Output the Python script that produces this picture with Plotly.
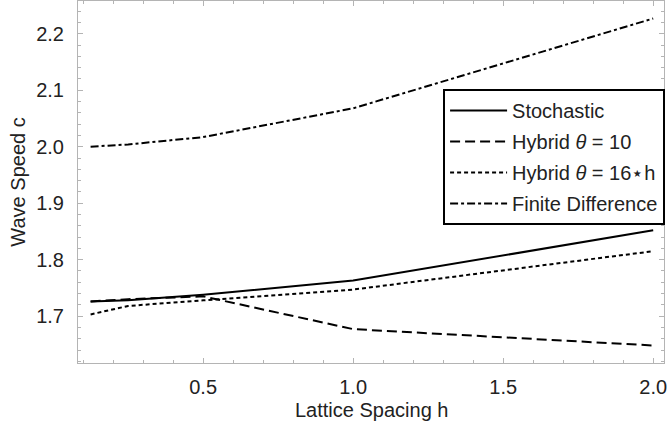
import plotly.graph_objects as go

h = [0.125, 0.25, 0.5, 1.0, 2.0]
stochastic = [1.726, 1.728, 1.738, 1.763, 1.852]
hybrid10 = [1.726, 1.730, 1.735, 1.677, 1.648]
hybrid16h = [1.703, 1.718, 1.728, 1.747, 1.815]
finite_diff = [2.000, 2.004, 2.017, 2.068, 2.227]

names = ["Stochastic", "Hybrid <i>θ</i> = 10", "Hybrid <i>θ</i> = 16⋆h", "Finite Difference"]
series = [stochastic, hybrid10, hybrid16h, finite_diff]
dashes = ["solid", "10px,5px", "4px,3px", "8px,3px,3px,3px"]

x_ticks = [0.5, 1.0, 1.5, 2.0]
x_ticklabels = ["0.5", "1.0", "1.5", "2.0"]
y_ticks = [1.7, 1.8, 1.9, 2.0, 2.1, 2.2]
y_ticklabels = ["1.7", "1.8", "1.9", "2.0", "2.1", "2.2"]

FONT = "Liberation Sans, Arial, sans-serif"
TXT = "#222222"
GRAY = "#b4b4b4"

fig = go.Figure()
for i, (nm, ys, d) in enumerate(zip(names, series, dashes)):
    fig.add_trace(go.Scatter(x=h, y=ys, mode="lines", name=nm,
                             legendgroup=f"g{i}",
                             line=dict(color="black", width=2, dash=d)))

axis_common = dict(showline=True, linecolor=GRAY, linewidth=1, mirror="allticks",
                   ticks="inside", tickcolor=GRAY, ticklen=5, tickwidth=1,
                   showgrid=False, zeroline=False, automargin=False,
                   tickfont=dict(family=FONT, size=20, color=TXT))

fig.update_layout(
    width=669, height=428,
    margin=dict(l=78, r=5, t=1, b=65),
    paper_bgcolor="white", plot_bgcolor="white",
    font=dict(family=FONT, size=20, color=TXT),
    showlegend=True,
    legend=dict(x=0.623, y=0.757, xanchor="left", yanchor="top",
                bordercolor="black", borderwidth=2, bgcolor="white",
                font=dict(family=FONT, size=20, color=TXT),
                itemwidth=57, tracegroupgap=2),
    xaxis=dict(range=[0.083, 2.036], tickvals=x_ticks, ticktext=x_ticklabels,
               minor=dict(dtick=0.1, tick0=0, ticks="inside", ticklen=3, tickcolor=GRAY),
               ticklabelstandoff=6,
               **axis_common),
    yaxis=dict(range=[1.617, 2.258], tickvals=y_ticks, ticktext=y_ticklabels,
               minor=dict(dtick=0.02, tick0=1.6, ticks="inside", ticklen=3, tickcolor=GRAY),
               ticklabelstandoff=9,
               **axis_common),
    annotations=[
        dict(text="Lattice Spacing h", xref="paper", yref="paper", x=0.5, y=-0.13,
             xanchor="center", yanchor="middle", showarrow=False,
             font=dict(family=FONT, size=20, color=TXT)),
        dict(text="Wave Speed c", xref="paper", yref="paper", x=-0.103, y=0.5,
             xanchor="center", yanchor="middle", textangle=-90, showarrow=False,
             font=dict(family=FONT, size=20, color=TXT)),
    ],
)

fig.write_html("out.html", config={"displayModeBar": False},
               post_script="document.body.style.margin='0';document.body.style.overflow='hidden';")
